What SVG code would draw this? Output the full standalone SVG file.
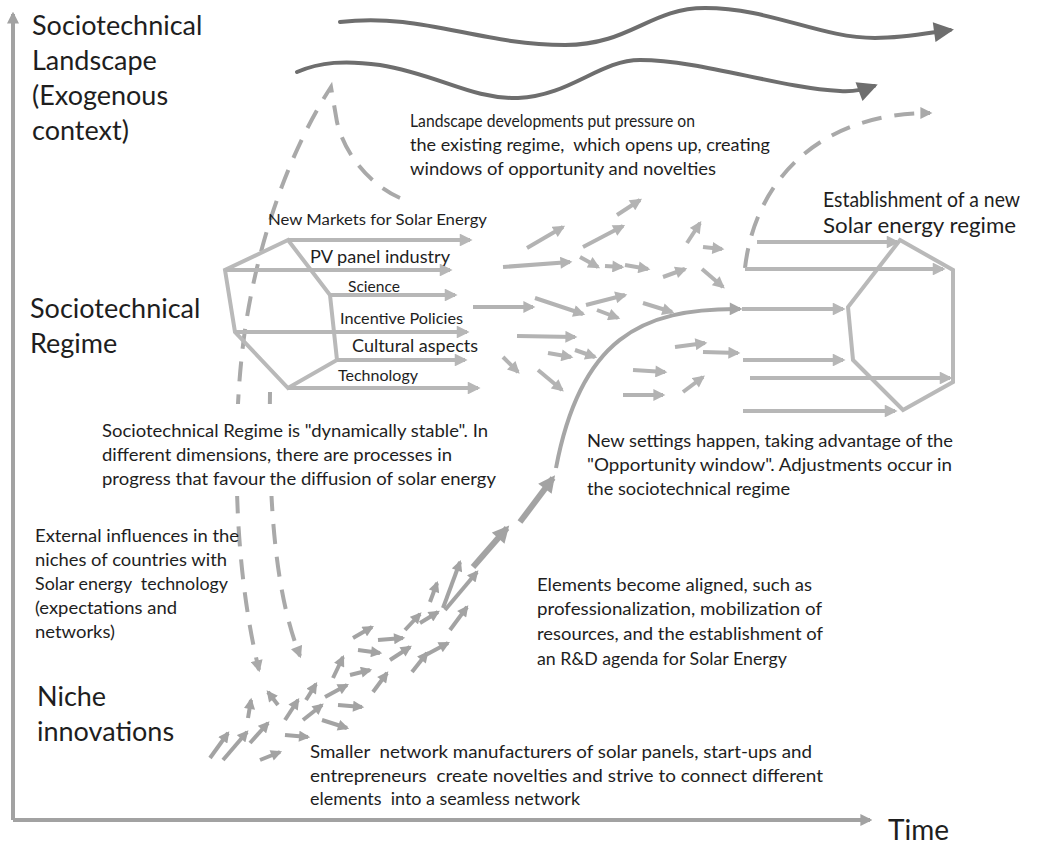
<svg xmlns="http://www.w3.org/2000/svg" width="1054" height="845" viewBox="0 0 1054 845">
  <defs>
    <style>
      .t { font-family: Lato, "Liberation Sans", Arial, sans-serif; fill: #1e1e1e; }
      .big { font-size: 27px; }
      .body { font-size: 16.5px; }
      .lbl { font-size: 14.5px; }
      .axis { fill: none; stroke: #a2a2a2; stroke-width: 4; }
      .wave { fill: none; stroke: #6e6e6e; stroke-width: 4; stroke-linecap: round; }
      .hex { fill: none; stroke: #b9b9b9; stroke-width: 4; stroke-linejoin: miter; }
      .reg { fill: none; stroke: #b7b7b7; stroke-width: 4; }
      .flow { fill: none; stroke: #b3b3b3; stroke-width: 4; }
      .niche { fill: none; stroke: #a3a3a3; stroke-width: 4; }
      .thick { fill: none; stroke: #a3a3a3; stroke-width: 6; }
      .dash { fill: none; stroke: #a9a9a9; stroke-width: 4; stroke-dasharray: 20 13; }
      .curve { fill: none; stroke: #a6a6a6; stroke-width: 4; }
    </style>
    <marker id="hAxis" viewBox="0 0 10 10" refX="8" refY="5" markerWidth="3" markerHeight="3" orient="auto">
      <path d="M0,0 L10,5 L0,10 z" fill="#a2a2a2"/>
    </marker>
    <marker id="hWave" viewBox="0 0 10 10" refX="8" refY="5" markerWidth="5.5" markerHeight="5" orient="auto">
      <path d="M0,0 L10,5 L0,10 z" fill="#6e6e6e"/>
    </marker>
    <marker id="hReg" viewBox="0 0 10 10" refX="8" refY="5" markerWidth="3.8" markerHeight="3.2" orient="auto">
      <path d="M0,0 L10,5 L0,10 z" fill="#b7b7b7"/>
    </marker>
    <marker id="hFlow" viewBox="0 0 10 10" refX="8" refY="5" markerWidth="3.2" markerHeight="3" orient="auto">
      <path d="M0,0 L10,5 L0,10 z" fill="#b3b3b3"/>
    </marker>
    <marker id="hNiche" viewBox="0 0 10 10" refX="8" refY="5" markerWidth="3" markerHeight="2.8" orient="auto">
      <path d="M0,0 L10,5 L0,10 z" fill="#a3a3a3"/>
    </marker>
    <marker id="hThick" viewBox="0 0 10 10" refX="8" refY="5" markerWidth="3" markerHeight="2.8" orient="auto">
      <path d="M0,0 L10,5 L0,10 z" fill="#a3a3a3"/>
    </marker>
    <marker id="hDash" viewBox="0 0 10 10" refX="8" refY="5" markerWidth="3.2" markerHeight="3" orient="auto">
      <path d="M0,0 L10,5 L0,10 z" fill="#a9a9a9"/>
    </marker>
    <marker id="hCurve" viewBox="0 0 10 10" refX="8" refY="5" markerWidth="3.6" markerHeight="3.2" orient="auto">
      <path d="M0,0 L10,5 L0,10 z" fill="#a6a6a6"/>
    </marker>
  </defs>

  <rect width="1054" height="845" fill="#ffffff"/>

  <!-- axes -->
  <g id="axes">
    <path class="axis" d="M13,820 V14" marker-end="url(#hAxis)"/>
    <path class="axis" d="M13,820 H870" marker-end="url(#hAxis)"/>
    <text class="t" x="888" y="840" font-size="28">Time</text>
  </g>

  <!-- level labels -->
  <g id="level-landscape">
    <text class="t big" x="32" y="35">Sociotechnical</text>
    <text class="t big" x="32" y="70">Landscape</text>
    <text class="t big" x="32" y="105">(Exogenous</text>
    <text class="t big" x="32" y="140">context)</text>
  </g>
  <g id="level-regime">
    <text class="t big" x="30" y="318">Sociotechnical</text>
    <text class="t big" x="30" y="353">Regime</text>
  </g>
  <g id="level-niche">
    <text class="t big" x="37" y="706">Niche</text>
    <text class="t big" x="37" y="741">innovations</text>
  </g>

  <!-- landscape trends -->
  <g id="landscape-trends">
    <path class="wave" d="M340,22 C420,12 480,45 565,45 C630,45 650,8 705,8 C770,8 820,38 875,38 C905,38 928,33 950,30" marker-end="url(#hWave)"/>
    <path class="wave" d="M297,72 C320,62 345,60 380,65 C440,75 470,99 518,98 C570,96 600,60 640,60 C700,60 780,88 840,91 C855,92 866,89 874,86" marker-end="url(#hWave)"/>
  </g>

  <!-- dashed pressure lines -->
  <g id="pressure">
    <path class="dash" d="M400,198 C376,188 346,160 337,122 L331,87 C290,150 258,240 245,330 C232,420 232,560 259,670" marker-end="url(#hDash)"/>
    <path class="dash" d="M270,392 C268,520 278,600 300,656" marker-end="url(#hDash)"/>
    <path class="dash" d="M745,268 C755,180 820,113 930,113" marker-end="url(#hDash)"/>
  </g>

  <!-- existing regime -->
  <g id="regime-current">
    <path class="hex" d="M288,240 L225,270 L235,332 L288,388 L337,360 L330,295 Z"/>
    <path class="reg" d="M288,240 H470" marker-end="url(#hReg)"/>
    <path class="reg" d="M225,270 H450" marker-end="url(#hReg)"/>
    <path class="reg" d="M330,295 H455" marker-end="url(#hReg)"/>
    <path class="reg" d="M235,332 H467" marker-end="url(#hReg)"/>
    <path class="reg" d="M337,360 H465" marker-end="url(#hReg)"/>
    <path class="reg" d="M288,388 H478" marker-end="url(#hReg)"/>
    <text class="t lbl" x="268" y="225" textLength="219" lengthAdjust="spacingAndGlyphs">New Markets for Solar Energy</text>
    <text class="t" x="310" y="263" font-size="18" textLength="140" lengthAdjust="spacingAndGlyphs">PV panel industry</text>
    <text class="t lbl" x="348" y="292" textLength="52" lengthAdjust="spacingAndGlyphs">Science</text>
    <text class="t lbl" x="340" y="324" textLength="123" lengthAdjust="spacingAndGlyphs">Incentive Policies</text>
    <text class="t" x="352" y="352" font-size="17" textLength="126" lengthAdjust="spacingAndGlyphs">Cultural aspects</text>
    <text class="t lbl" x="338" y="381" textLength="80" lengthAdjust="spacingAndGlyphs">Technology</text>
  </g>

  <!-- new regime -->
  <g id="regime-new">
    <path class="hex" d="M900,240 L953,270 L953,382 L903,410 L853,360 L848,307 Z"/>
    <path class="reg" d="M757,242 H897" marker-end="url(#hReg)"/>
    <path class="reg" d="M745,269 H943" marker-end="url(#hReg)"/>
    <path class="reg" d="M742,309 H843" marker-end="url(#hReg)"/>
    <path class="reg" d="M743,360 H843" marker-end="url(#hReg)"/>
    <path class="reg" d="M750,378 H950" marker-end="url(#hReg)"/>
    <path class="reg" d="M743,411 H895" marker-end="url(#hReg)"/>
  </g>

  <!-- connectors -->
  <g id="connectors">
    <!-- regime turbulence -->
    <g id="regime-flows">
      <path class="flow" d="M527,248 L563,227" marker-end="url(#hFlow)"/>
      <path class="flow" d="M583,247 L623,226" marker-end="url(#hFlow)"/>
      <path class="flow" d="M617,215 L640,200" marker-end="url(#hFlow)"/>
      <path class="flow" d="M503,267 L570,262" marker-end="url(#hFlow)"/>
      <path class="flow" d="M580,257 L598,267" marker-end="url(#hFlow)"/>
      <path class="flow" d="M605,266 L622,267" marker-end="url(#hFlow)"/>
      <path class="flow" d="M625,265 L648,269" marker-end="url(#hFlow)"/>
      <path class="flow" d="M663,277 L685,269" marker-end="url(#hFlow)"/>
      <path class="flow" d="M687,243 L700,223" marker-end="url(#hFlow)"/>
      <path class="flow" d="M703,247 L722,249" marker-end="url(#hFlow)"/>
      <path class="flow" d="M702,269 L723,287" marker-end="url(#hFlow)"/>
      <path class="flow" d="M473,307 L533,307" marker-end="url(#hFlow)"/>
      <path class="flow" d="M535,298 L583,314" marker-end="url(#hFlow)"/>
      <path class="flow" d="M586,305 L625,295" marker-end="url(#hFlow)"/>
      <path class="flow" d="M597,310 L618,318" marker-end="url(#hFlow)"/>
      <path class="flow" d="M643,303 L672,312" marker-end="url(#hFlow)"/>
      <path class="flow" d="M517,336 L575,337" marker-end="url(#hFlow)"/>
      <path class="flow" d="M548,353 L571,357" marker-end="url(#hFlow)"/>
      <path class="flow" d="M575,350 L595,357" marker-end="url(#hFlow)"/>
      <path class="flow" d="M503,357 L518,372" marker-end="url(#hFlow)"/>
      <path class="flow" d="M538,370 L562,390" marker-end="url(#hFlow)"/>
      <path class="flow" d="M675,347 L705,343" marker-end="url(#hFlow)"/>
      <path class="flow" d="M703,352 L738,353" marker-end="url(#hFlow)"/>
      <path class="flow" d="M633,370 L665,372" marker-end="url(#hFlow)"/>
      <path class="flow" d="M683,392 L703,377" marker-end="url(#hFlow)"/>
      <path class="flow" d="M623,395 L663,395" marker-end="url(#hFlow)"/>
    </g>
    <!-- niche experiments -->
    <g id="niche-flows">
      <path class="niche" d="M210,758 L228,733" marker-end="url(#hNiche)"/>
      <path class="niche" d="M223,760 L247,732" marker-end="url(#hNiche)"/>
      <path class="niche" d="M250,743 L268,723" marker-end="url(#hNiche)"/>
      <path class="niche" d="M260,760 L280,752" marker-end="url(#hNiche)"/>
      <path class="niche" d="M285,735 L308,737" marker-end="url(#hNiche)"/>
      <path class="niche" d="M248,718 L251,700" marker-end="url(#hNiche)"/>
      <path class="niche" d="M278,705 L268,692" marker-end="url(#hNiche)"/>
      <path class="niche" d="M285,720 L298,700" marker-end="url(#hNiche)"/>
      <path class="niche" d="M303,720 L322,705" marker-end="url(#hNiche)"/>
      <path class="niche" d="M306,700 L316,684" marker-end="url(#hNiche)"/>
      <path class="niche" d="M322,720 L347,728" marker-end="url(#hNiche)"/>
      <path class="niche" d="M325,697 L347,685" marker-end="url(#hNiche)"/>
      <path class="niche" d="M338,705 L362,707" marker-end="url(#hNiche)"/>
      <path class="niche" d="M333,678 L343,657" marker-end="url(#hNiche)"/>
      <path class="niche" d="M350,675 L370,670" marker-end="url(#hNiche)"/>
      <path class="niche" d="M358,650 L380,653" marker-end="url(#hNiche)"/>
      <path class="niche" d="M353,638 L372,627" marker-end="url(#hNiche)"/>
      <path class="niche" d="M373,692 L387,673" marker-end="url(#hNiche)"/>
      <path class="niche" d="M378,640 L403,638" marker-end="url(#hNiche)"/>
      <path class="niche" d="M390,660 L410,647" marker-end="url(#hNiche)"/>
      <path class="niche" d="M405,630 L420,614" marker-end="url(#hNiche)"/>
      <path class="niche" d="M420,623 L438,612" marker-end="url(#hNiche)"/>
      <path class="niche" d="M412,672 L427,653" marker-end="url(#hNiche)"/>
      <path class="niche" d="M422,657 L448,643" marker-end="url(#hNiche)"/>
      <path class="niche" d="M430,602 L437,583" marker-end="url(#hNiche)"/>
      <path class="niche" d="M443,608 L460,562" marker-end="url(#hNiche)"/>
      <path class="niche" d="M445,610 L477,572" marker-end="url(#hNiche)"/>
      <path class="niche" d="M450,630 L467,607" marker-end="url(#hNiche)"/>
      <path class="thick" d="M473,567 L507,528" marker-end="url(#hThick)"/>
      <path class="thick" d="M520,522 L553,478" marker-end="url(#hThick)"/>
    </g>
    <!-- breakthrough into the regime -->
    <path class="curve" d="M556,468 C580,340 640,308 740,309" marker-end="url(#hCurve)"/>
  </g>

  <!-- annotations -->
  <g id="note-landscape">
    <text class="t body" x="410" y="127" textLength="285" lengthAdjust="spacingAndGlyphs">Landscape developments put pressure on</text>
    <text class="t body" x="410" y="151" textLength="360" lengthAdjust="spacingAndGlyphs" xml:space="preserve">the existing regime,  which opens up, creating</text>
    <text class="t body" x="410" y="175" textLength="306" lengthAdjust="spacingAndGlyphs">windows of opportunity and novelties</text>
  </g>
  <g id="note-new-regime">
    <text class="t" x="823" y="207" font-size="21" textLength="197" lengthAdjust="spacingAndGlyphs">Establishment of a new</text>
    <text class="t" x="823" y="233" font-size="21" textLength="193" lengthAdjust="spacingAndGlyphs">Solar energy regime</text>
  </g>
  <g id="note-regime">
    <rect x="96" y="404" width="408" height="92" fill="#ffffff"/>
    <text class="t body" x="102" y="437" textLength="386" lengthAdjust="spacingAndGlyphs">Sociotechnical Regime is "dynamically stable". In</text>
    <text class="t body" x="102" y="461" textLength="350" lengthAdjust="spacingAndGlyphs">different dimensions, there are processes in</text>
    <text class="t body" x="102" y="485" textLength="394" lengthAdjust="spacingAndGlyphs">progress that favour the diffusion of solar energy</text>
  </g>
  <g id="note-external">
    <text class="t body" x="35" y="542" textLength="204" lengthAdjust="spacingAndGlyphs">External influences in the</text>
    <text class="t body" x="35" y="566" textLength="192" lengthAdjust="spacingAndGlyphs">niches of countries with</text>
    <text class="t body" x="35" y="590" textLength="193" lengthAdjust="spacingAndGlyphs" xml:space="preserve">Solar energy  technology</text>
    <text class="t body" x="35" y="614" textLength="142" lengthAdjust="spacingAndGlyphs">(expectations and</text>
    <text class="t body" x="35" y="638" textLength="80" lengthAdjust="spacingAndGlyphs">networks)</text>
  </g>
  <g id="note-settings">
    <text class="t body" x="587" y="447" textLength="366" lengthAdjust="spacingAndGlyphs">New settings happen, taking advantage of the</text>
    <text class="t body" x="587" y="471" textLength="365" lengthAdjust="spacingAndGlyphs">"Opportunity window". Adjustments occur in</text>
    <text class="t body" x="587" y="495" textLength="203" lengthAdjust="spacingAndGlyphs">the sociotechnical regime</text>
  </g>
  <g id="note-aligned">
    <text class="t body" x="537" y="591" textLength="275" lengthAdjust="spacingAndGlyphs">Elements become aligned, such as</text>
    <text class="t body" x="537" y="615" textLength="285" lengthAdjust="spacingAndGlyphs">professionalization, mobilization of</text>
    <text class="t body" x="537" y="640" textLength="286" lengthAdjust="spacingAndGlyphs">resources, and the establishment of</text>
    <text class="t body" x="537" y="665" textLength="250" lengthAdjust="spacingAndGlyphs">an R&amp;D agenda for Solar Energy</text>
  </g>
  <g id="note-niche">
    <text class="t body" x="310" y="758" textLength="502" lengthAdjust="spacingAndGlyphs" xml:space="preserve">Smaller  network manufacturers of solar panels, start-ups and</text>
    <text class="t body" x="310" y="782" textLength="513" lengthAdjust="spacingAndGlyphs" xml:space="preserve">entrepreneurs  create novelties and strive to connect different</text>
    <text class="t body" x="310" y="805" textLength="270" lengthAdjust="spacingAndGlyphs" xml:space="preserve">elements  into a seamless network</text>
  </g>
</svg>
